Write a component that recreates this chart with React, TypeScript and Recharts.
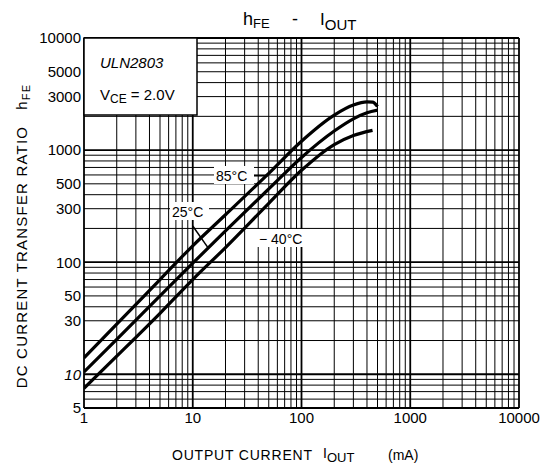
import React from 'react';
import { LineChart, Line, XAxis, YAxis, ReferenceLine } from 'recharts';

// ---- data ----
const current85 = [1, 2, 5, 10, 20, 50, 100, 200, 300, 400, 450, 500];
const hfe85 = [14, 28, 70, 140, 265, 620, 1200, 2050, 2520, 2690, 2680, 2450];

const current25 = [1, 2, 5, 10, 20, 50, 100, 200, 300, 400, 500];
const hfe25 = [10.5, 20.5, 50, 98, 190, 450, 860, 1480, 1900, 2150, 2270];

const currentM40 = [1, 2, 5, 10, 20, 50, 100, 200, 300, 450];
const hfeM40 = [7.5, 14.5, 35, 70, 135, 335, 660, 1120, 1350, 1500];

const xTicks = [1, 10, 100, 1000, 10000];
const yTicks = [5, 10, 30, 50, 100, 300, 500, 1000, 3000, 5000, 10000];

const gridMultipliers = [1, 2, 3, 4, 5, 6, 7, 8, 9];
const xDecades = [1, 10, 100, 1000];
const yDecades = [1, 10, 100, 1000];
const xGrid = xDecades.flatMap((d) => gridMultipliers.map((m) => m * d)).concat([10000]);
const yGrid = yDecades
  .flatMap((d) => gridMultipliers.map((m) => m * d))
  .filter((v) => v >= 5)
  .concat([10000]);
const majorGrid = [1, 10, 100, 1000, 10000];

const toPoints = (xs: number[], ys: number[]) => xs.map((x, i) => ({ x, y: ys[i] }));
const data85 = toPoints(current85, hfe85);
const data25 = toPoints(current25, hfe25);
const dataM40 = toPoints(currentM40, hfeM40);

const FONT = '"Liberation Sans", Arial, sans-serif';
const SP = '\u00A0';

const YTick = (props: any) => {
  const { x, y, payload } = props;
  const v = payload.value;
  return (
    <text x={x} y={y} dy="0.36em" textAnchor="end" fontSize={15} fontFamily={FONT} fill="#000"
      fontStyle={v === 10 ? 'italic' : 'normal'}>
      {v}
    </text>
  );
};

export default function App() {
  return (
    <div style={{ position: 'absolute', left: 0, top: 0, width: 541, height: 472, background: '#fff' }}>
      <LineChart width={541} height={472} margin={{ top: 38, right: 22, bottom: 34, left: 24 }}>
        <XAxis
          type="number"
          dataKey="x"
          scale="log"
          domain={[1, 10000]}
          ticks={xTicks}
          allowDataOverflow
          axisLine={false}
          tickLine={false}
          tickSize={0}
          tickMargin={4}
          height={30}
          tick={{ fontSize: 15, fontFamily: FONT, fill: '#000' }}
        />
        <YAxis
          type="number"
          dataKey="y"
          scale="log"
          domain={[5, 10000]}
          ticks={yTicks}
          allowDataOverflow
          axisLine={false}
          tickLine={false}
          tickSize={0}
          tickMargin={3}
          width={60}
          interval={0}
          tick={<YTick />}
        />
        {xGrid.map((v) => (
          <ReferenceLine key={'vx' + v} x={v} stroke="#000" strokeWidth={majorGrid.includes(v) ? 1.8 : 1} />
        ))}
        {yGrid.map((v) => (
          <ReferenceLine key={'hy' + v} y={v} stroke="#000" strokeWidth={majorGrid.includes(v) || v === 5 ? 1.8 : 1} />
        ))}
        <Line data={data85} dataKey="y" type="monotone" stroke="#000" strokeWidth={3.2} dot={false} isAnimationActive={false} />
        <Line data={data25} dataKey="y" type="monotone" stroke="#000" strokeWidth={3.2} dot={false} isAnimationActive={false} />
        <Line data={dataM40} dataKey="y" type="monotone" stroke="#000" strokeWidth={3.2} dot={false} isAnimationActive={false} />
        <ReferenceLine segment={[{ x: 34, y: 590 }, { x: 49, y: 590 }]} stroke="#000" strokeWidth={1.5} />
        <ReferenceLine segment={[{ x: 10, y: 210 }, { x: 13.8, y: 135 }]} stroke="#000" strokeWidth={1.5} />
      </LineChart>
      <svg width={541} height={472} style={{ position: 'absolute', left: 0, top: 0, pointerEvents: 'none' }}
        fontFamily={FONT} fill="#000">
        {/* title */}
        <text y={25} fontSize={18}>
          <tspan x={243}>h</tspan>
          <tspan fontSize={13} dy={3}>FE</tspan>
          <tspan x={292} dy={-3} fontSize={18}>-</tspan>
          <tspan x={320} fontSize={17}>I</tspan>
          <tspan fontSize={15} dy={5}>OUT</tspan>
        </text>
        {/* legend box */}
        <rect x={84} y={38} width={113} height={77} fill="#fff" stroke="#000" strokeWidth={1.5} />
        <text x={100} y={68} fontSize={15} fontStyle="italic">ULN2803</text>
        <text x={100} y={100} fontSize={15}>
          V<tspan fontSize={12} dy={3}>CE</tspan><tspan dy={-3}>{SP + '=' + SP + '2.0V'}</tspan>
        </text>
        {/* curve labels */}
        <rect x={214} y={166} width={40} height={18} fill="#fff" />
        <text x={216} y={181} fontSize={14}>85°C</text>
        <rect x={170} y={202} width={39} height={18} fill="#fff" />
        <text x={172} y={217} fontSize={14}>25°C</text>
        <rect x={257} y={229} width={48} height={18} fill="#fff" />
        <text x={259} y={244} fontSize={14}>{'−' + SP + '40°C'}</text>
        {/* y-axis title */}
        <text transform="translate(27,236) rotate(-90)" textAnchor="middle" fontSize={15} letterSpacing={1.2}>
          {'DC CURRENT TRANSFER RATIO' + SP + SP + SP}h<tspan fontSize={11} dy={3}>FE</tspan>
        </text>
        {/* x-axis title */}
        <text y={460} fontSize={14}>
          <tspan x={172} letterSpacing={0.8}>OUTPUT CURRENT</tspan>
          <tspan x={323} dy={-2} fontSize={14}>I</tspan>
          <tspan fontSize={13} dy={4}>OUT</tspan>
          <tspan x={388} dy={-2}>(mA)</tspan>
        </text>
      </svg>
    </div>
  );
}
